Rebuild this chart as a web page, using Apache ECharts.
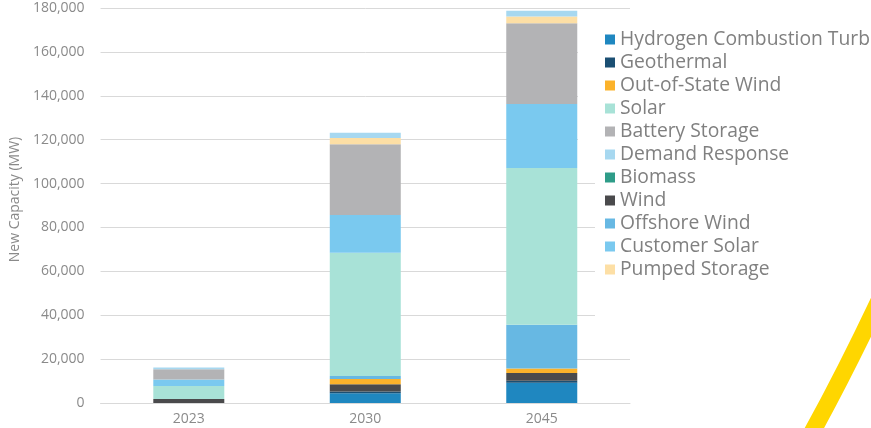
<!DOCTYPE html>
<html>
<head>
<meta charset="utf-8">
<title>New Capacity</title>
<script src="https://cdn.jsdelivr.net/npm/echarts@6/dist/echarts.min.js"></script>
<style>
    html, body { margin: 0; padding: 0; background: #fff; }
    #main { width: 871px; height: 428px; }
</style>
</head>
<body>
<div id="main"></div>
<script>
var years = ['2023', '2030', '2045'];
var yTicks = [0, 20000, 40000, 60000, 80000, 100000, 120000, 140000, 160000, 180000];

// MW per year, stack order bottom -> top
var hydrogen = [0, 4400, 9200];
var geothermal = [0, 800, 900];
var wind = [1800, 3400, 3600];
var outOfStateWind = [0, 2300, 2000];
var biomass = [0, 0, 0];
var offshoreWind = [0, 1400, 20000];
var solar = [5900, 56200, 71400];
var customerSolar = [3000, 17200, 29200];
var batteryStorage = [4700, 32200, 36800];
var pumpedStorage = [0, 2900, 3000];
var demandResponse = [800, 2400, 2700];

var legendOrder = ['Hydrogen Combustion Turbine', 'Geothermal', 'Out-of-State Wind', 'Solar', 'Battery Storage',
    'Demand Response', 'Biomass', 'Wind', 'Offshore Wind', 'Customer Solar', 'Pumped Storage'];

(function () {
    var stackList = [
        { name: 'Hydrogen Combustion Turbine', data: hydrogen, color: '#1f87c0' },
        { name: 'Geothermal', data: geothermal, color: '#1b4f73' },
        { name: 'Wind', data: wind, color: '#4a4a4c' },
        { name: 'Out-of-State Wind', data: outOfStateWind, color: '#fbb22b' },
        { name: 'Biomass', data: biomass, color: '#2e9c88' },
        { name: 'Offshore Wind', data: offshoreWind, color: '#67b8e3' },
        { name: 'Solar', data: solar, color: '#a8e2d7' },
        { name: 'Customer Solar', data: customerSolar, color: '#7ac9ef' },
        { name: 'Battery Storage', data: batteryStorage, color: '#b3b3b5' },
        { name: 'Pumped Storage', data: pumpedStorage, color: '#fddfa5' },
        { name: 'Demand Response', data: demandResponse, color: '#a7d8f0' }
    ];
    var series = stackList.map(function (s) {
        return {
            name: s.name,
            type: 'bar',
            stack: 'total',
            barWidth: 71,
            itemStyle: { color: s.color },
            data: s.data
        };
    });

    var myChart = echarts.init(document.getElementById('main'), null, { renderer: 'canvas' });
    var option = {
        animation: false,
        backgroundColor: '#fff',
        textStyle: { fontFamily: 'Open Sans' },
        grid: { left: 100, right: 241, top: 8, bottom: 25 },
        legend: {
            orient: 'vertical',
            left: 605,
            top: 30,
            padding: 0,
            z: 5,
            icon: 'rect',
            itemWidth: 10,
            itemHeight: 10,
            itemGap: 4,
            data: legendOrder,
            textStyle: { color: '#808080', fontSize: 19.3, lineHeight: 19, fontFamily: 'Open Sans' }
        },
        xAxis: {
            type: 'category',
            data: years,
            axisLine: { lineStyle: { color: '#d9d9d9' } },
            axisTick: { show: false },
            axisLabel: { color: '#8a8a8a', fontSize: 14, margin: 9 }
        },
        yAxis: {
            type: 'value',
            min: yTicks[0],
            max: yTicks[yTicks.length - 1],
            interval: 20000,
            name: 'New Capacity (MW)',
            nameLocation: 'middle',
            nameGap: 72,
            nameTextStyle: { color: '#8a8a8a', fontSize: 14, padding: [0, 0, 0, 12] },
            axisLine: { show: false },
            axisTick: { show: false },
            axisLabel: {
                color: '#8a8a8a', fontSize: 14, margin: 16,
                formatter: function (v) { return v.toLocaleString('en-US'); }
            },
            splitLine: { lineStyle: { color: '#d9d9d9' } }
        },
        graphic: [
            // white box behind the legend hides part of the grid lines
            { type: 'rect', z: 1, shape: { x: 578, y: 30, width: 300, height: 125 }, style: { fill: '#fff' } },
            { type: 'rect', z: 1, shape: { x: 595, y: 30, width: 300, height: 310 }, style: { fill: '#fff' } },
            {
                type: 'bezierCurve', z: 10,
                shape: { x1: 810, y1: 436, cpx1: 846, cpy1: 371, x2: 884, y2: 290 },
                style: { stroke: '#ffd600', lineWidth: 17, fill: null }
            }
        ],
        series: series
    };
    myChart.setOption(option);
})();
</script>
</body>
</html>
